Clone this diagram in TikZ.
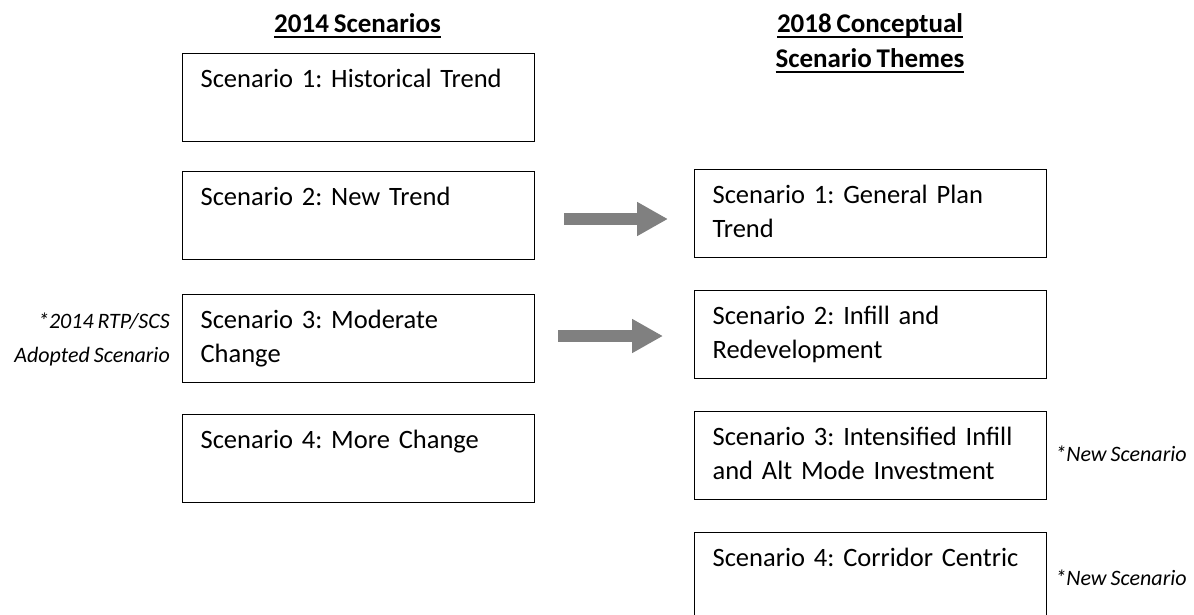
\documentclass[tikz,border=0pt]{standalone}
\usepackage{fontspec}
\setmainfont{Carlito}[WordSpace=0.8]
\usetikzlibrary{arrows.meta}
\newlength{\ulwidth}
\newcommand{\ulbox}[1]{\settowidth{\ulwidth}{#1}\rlap{\rule[-5.7pt]{\ulwidth}{1.4pt}}#1}
\definecolor{arrowgray}{HTML}{808080}
\frenchspacing

\begin{document}
\begin{tikzpicture}[x=1pt,y=1pt,
	scenbox/.style={draw,line width=1.2pt,rectangle,anchor=north west,inner xsep=18pt,inner ysep=0pt,text width=316pt,align=left,text height=34pt,text depth=54pt,font=\fontsize{26.5}{34}\selectfont},
	headtext/.style={font=\fontsize{27}{35}\selectfont\bfseries,align=center},
	notetext/.style={font=\fontsize{22}{34}\selectfont\itshape,inner sep=0pt},
	bigarrow/.style={draw=arrowgray,line width=12pt,-{Triangle[length=31pt,width=32pt]}}]
	\useasboundingbox (0,0) rectangle (1194,-614);
	\node[headtext,anchor=base] (head14) at (357.5,-32) {\ulbox{2014 Scenarios}};
	\node[headtext,anchor=base] (head18) at (870,-67) {\ulbox{2018 Conceptual}\\\ulbox{Scenario Themes}};
	\foreach \i/\y/\txt in {1/53/Scenario 1: Historical Trend,2/171/Scenario 2: New Trend,3/294/Scenario 3: Moderate\\Change,4/414/Scenario 4: More Change}
	\node[scenbox] (old\i) at (182,-\y) {\txt};
	\foreach \i/\y/\txt in {1/169/Scenario 1: General Plan\\Trend,2/290/Scenario 2: Infill and\\Redevelopment,3/411/Scenario 3: Intensified Infill\\and Alt Mode Investment,4/532/Scenario 4: Corridor Centric}
	\node[scenbox] (new\i) at (694,-\y) {\txt};
	\node[notetext,align=right,anchor=base east] (adopted) at (170,-362) {*2014 RTP/SCS\\Adopted Scenario};
	\node[notetext,anchor=west] (flag3) at ([xshift=8pt,yshift=2pt]new3.east) {*New Scenario};
	\node[notetext,anchor=west] (flag4) at ([xshift=8pt,yshift=-1pt]new4.east) {*New Scenario};
	\coordinate (arr1s) at (564,-219);
	\coordinate (arr1e) at (668,-219);
	\coordinate (arr2s) at (558,-336);
	\coordinate (arr2e) at (663,-336);
	\draw[bigarrow] (arr1s) -- (arr1e);
	\draw[bigarrow] (arr2s) -- (arr2e);
\end{tikzpicture}
\end{document}
